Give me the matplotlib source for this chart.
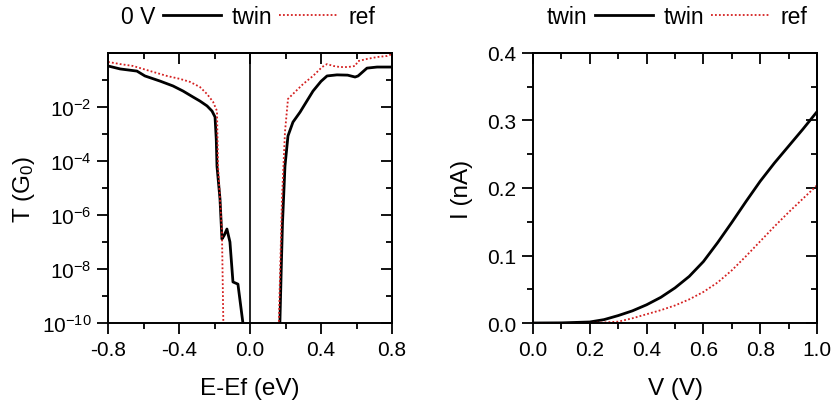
import numpy as np
import matplotlib
matplotlib.use("Agg")
import matplotlib.pyplot as plt
from matplotlib.lines import Line2D
from matplotlib.ticker import FixedLocator, MultipleLocator, LogFormatterSciNotation, NullFormatter

plt.rcParams['font.family'] = ['Liberation Sans', 'DejaVu Sans']
plt.rcParams['mathtext.default'] = 'regular'

# left panel: transmission, log10(T / G0)
twin_E = [-0.80, -0.732, -0.637, -0.592, -0.507, -0.434, -0.377, -0.321, -0.282, -0.242,
          -0.214, -0.197, -0.190, -0.186, -0.169, -0.158, -0.145, -0.130, -0.113, -0.096,
          -0.068, -0.038, np.nan,
          0.168, 0.176, 0.183, 0.197, 0.214, 0.242, 0.282, 0.310, 0.355, 0.400,
          0.434, 0.490, 0.550, 0.592, 0.609, 0.659, 0.716, 0.80]
twin_logT = [-0.48, -0.59, -0.67, -0.85, -1.04, -1.22, -1.41, -1.63, -1.78, -1.96,
             -2.15, -2.37, -3.2, -4.19, -5.41, -6.89, -6.75, -6.52, -7.0, -8.48,
             -8.56, -10.1, np.nan,
             -10.1, -8.0, -6.3, -4.19, -3.07, -2.56, -2.19, -1.89, -1.41, -1.05,
             -0.85, -0.81, -0.82, -0.89, -0.85, -0.56, -0.52, -0.52]

ref_E = [-0.80, -0.732, -0.659, -0.603, -0.546, -0.468, -0.394, -0.338, -0.282, -0.242,
         -0.208, -0.186, -0.180, -0.158, -0.150, np.nan,
         0.162, 0.180, 0.197, 0.214, 0.254, 0.299, 0.355, 0.406, 0.434, 0.470,
         0.507, 0.552, 0.592, 0.609, 0.659, 0.716, 0.772, 0.80]
ref_logT = [-0.33, -0.41, -0.48, -0.59, -0.70, -0.85, -0.96, -1.07, -1.26, -1.52,
            -1.81, -2.15, -4.19, -6.63, -10.1, np.nan,
            -10.1, -5.41, -2.93, -1.70, -1.44, -1.15, -0.85, -0.52, -0.41, -0.48,
            -0.52, -0.52, -0.48, -0.30, -0.22, -0.15, -0.11, -0.04]

# right panel: I-V
twin_V = [0.0, 0.10, 0.20, 0.25, 0.30, 0.35, 0.40, 0.45, 0.50, 0.55, 0.60, 0.65,
          0.70, 0.75, 0.80, 0.85, 0.90, 0.95, 1.0]
twin_I = [0.0, 0.0002, 0.0015, 0.005, 0.011, 0.018, 0.027, 0.038, 0.052, 0.069, 0.091,
          0.119, 0.149, 0.180, 0.210, 0.237, 0.262, 0.287, 0.313]

ref_V = [0.0, 0.20, 0.25, 0.30, 0.35, 0.40, 0.45, 0.50, 0.55, 0.60, 0.65, 0.70, 0.75,
         0.80, 0.85, 0.90, 0.95, 1.0]
ref_I = [0.0, 0.0002, 0.0008, 0.002, 0.007, 0.013, 0.019, 0.026, 0.035, 0.046, 0.060,
         0.078, 0.099, 0.121, 0.143, 0.164, 0.184, 0.204]

red = '#d42020'
dots = (0, (1, 1.2))
fs_tick = 15
fs_leg = 16.5
fs_lab = 17.5
lw_twin = 2.0
lw_ref = 1.3

fig = plt.figure(figsize=(8.33, 4.10), dpi=100)
axL = fig.add_axes([108/833, 1-324/410, 284/833, 270/410])
axR = fig.add_axes([533/833, 1-324/410, 284/833, 270/410])


def style(ax):
    for s in ax.spines.values():
        s.set_linewidth(1.4)
    ax.tick_params(which='both', direction='out', width=1.3, labelsize=fs_tick,
                   top=False, right=False)
    ax.tick_params(axis='x', pad=4)
    ax.tick_params(axis='y', pad=4)
    ax.tick_params(which='major', length=8)
    ax.tick_params(which='minor', length=4.5)


def mirror(ax, xmaj, xmin, ymaj, ymin):
    # top and right ticks point inwards, bottom and left outwards
    top = ax.secondary_xaxis('top')
    right = ax.secondary_yaxis('right')
    for sec, maj, mn in ((top, xmaj, xmin), (right, ymaj, ymin)):
        sec.set_ticks(maj)
        sec.set_ticks(mn, minor=True)
        sec.tick_params(which='both', direction='in', width=1.3, labelleft=False,
                        labelright=False, labeltop=False, labelbottom=False)
        sec.tick_params(which='major', length=8)
        sec.tick_params(which='minor', length=4.5)
        for s in sec.spines.values():
            s.set_linewidth(1.4)


# ---- left panel
axL.plot(twin_E, 10**np.array(twin_logT), color='black', lw=lw_twin)
axL.plot(ref_E, 10**np.array(ref_logT), color=red, lw=lw_ref, ls=dots)
axL.axvline(0.0, color='black', lw=1.2)
axL.set_yscale('log')
axL.set_xlim(-0.8, 0.8)
axL.set_ylim(1e-10, 1)
style(axL)
ymaj = [1e-10, 1e-8, 1e-6, 1e-4, 1e-2]
ymin = [1e-9, 1e-7, 1e-5, 1e-3, 1e-1]
axL.yaxis.set_major_locator(FixedLocator(ymaj))
axL.yaxis.set_minor_locator(FixedLocator(ymin))
axL.yaxis.set_major_formatter(LogFormatterSciNotation())
axL.yaxis.set_minor_formatter(NullFormatter())
axL.set_xticks([-0.8, -0.4, 0.0, 0.4, 0.8])
axL.set_xticklabels(['-0.8', '-0.4', '0.0', '0.4', '0.8'])
axL.xaxis.set_minor_locator(FixedLocator([-0.6, -0.2, 0.2, 0.6]))
axL.set_xlabel('E-Ef (eV)', fontsize=fs_lab, labelpad=13)
axL.set_ylabel('T (G$_0$)', fontsize=fs_lab, labelpad=3)
mirror(axL, [-0.8, -0.4, 0.0, 0.4, 0.8], [-0.6, -0.2, 0.2, 0.6], ymaj, ymin)

# ---- right panel
axR.plot(twin_V, twin_I, color='black', lw=lw_twin)
axR.plot(ref_V, ref_I, color=red, lw=lw_ref, ls=dots)
axR.set_xlim(0, 1.0)
axR.set_ylim(0, 0.4)
style(axR)
axR.xaxis.set_major_locator(MultipleLocator(0.2))
axR.xaxis.set_minor_locator(MultipleLocator(0.1))
axR.yaxis.set_major_locator(MultipleLocator(0.1))
axR.yaxis.set_minor_locator(MultipleLocator(0.05))
axR.xaxis.set_major_formatter(plt.FormatStrFormatter('%.1f'))
axR.yaxis.set_major_formatter(plt.FormatStrFormatter('%.1f'))
axR.set_xlabel('V (V)', fontsize=fs_lab, labelpad=13)
axR.set_ylabel('I (nA)', fontsize=fs_lab, labelpad=10)
mirror(axR, np.arange(0, 1.01, 0.2), np.arange(0.1, 1.0, 0.2),
       np.arange(0, 0.41, 0.1), np.arange(0.05, 0.4, 0.1))

# ---- legends above the panels
handles = [Line2D([], [], color='black', lw=lw_twin),
           Line2D([], [], color=red, lw=lw_ref, ls=dots)]
y_leg = 1 - 18/410
for ax, lead, x0 in ((axL, '0 V', 163/833), (axR, 'twin', 595/833)):
    leg = ax.legend(handles, ['twin', 'ref'], ncol=2, frameon=False, fontsize=fs_leg,
                    loc='center left', bbox_to_anchor=(x0, y_leg),
                    bbox_transform=fig.transFigure, borderpad=0, borderaxespad=0,
                    handlelength=2.55, handletextpad=0.45, columnspacing=0.3)
    fig.text(x0 - 8/833, y_leg, lead, fontsize=fs_leg, ha='right', va='center')

fig.savefig('out.png', dpi=100)
